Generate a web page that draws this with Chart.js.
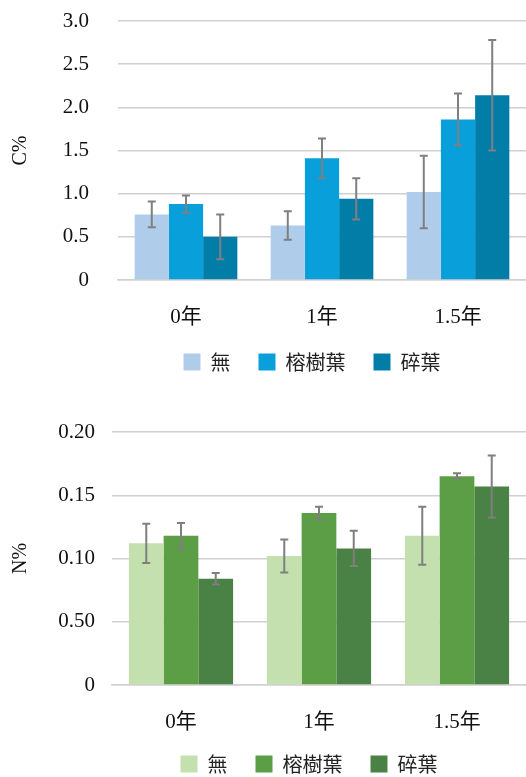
<!DOCTYPE html>
<html lang="zh-Hant">
<head>
<meta charset="UTF-8">
<title>C% / N%</title>
<script src="https://cdn.jsdelivr.net/npm/chart.js@4"></script>
<style>
  html, body { margin: 0; padding: 0; background: #fff; overflow: hidden; }
  body { width: 526px; height: 777px; position: relative; }
  #chartC { position: absolute; left: 0; top: 0; }
  #chartN { position: absolute; left: 0; top: 390px; }
</style>
</head>
<body>
<canvas id="chartC" width="526" height="410"></canvas>
<canvas id="chartN" width="526" height="420"></canvas>

<script>
// data
const categories = ['0年', '1年', '1.5年'];
const seriesNames = ['無', '榕樹葉', '碎葉'];

const cNone = [0.76, 0.63, 1.02];
const cBanyan = [0.88, 1.41, 1.86];
const cCrushed = [0.50, 0.94, 2.14];
const cNoneErr = [0.15, 0.165, 0.42];
const cBanyanErr = [0.10, 0.23, 0.30];
const cCrushedErr = [0.26, 0.24, 0.64];

const nNone = [0.112, 0.102, 0.118];
const nBanyan = [0.118, 0.136, 0.165];
const nCrushed = [0.084, 0.108, 0.157];
const nNoneErr = [0.0155, 0.013, 0.023];
const nBanyanErr = [0.010, 0.005, 0.0023];
const nCrushedErr = [0.0046, 0.014, 0.0245];

const cTickLabels = ['0', '0.5', '1.0', '1.5', '2.0', '2.5', '3.0'];
const nTickLabels = ['0', '0.50', '0.10', '0.15', '0.20'];

const blueColors = ['#AFCDEA', '#089FDA', '#017DA8'];
const greenColors = ['#C3E0AE', '#5C9E46', '#4A8145'];

const serif = "'Liberation Serif', 'Times New Roman', 'Noto Sans CJK TC', serif";
const cjk = "'Noto Sans CJK TC', 'Noto Sans CJK SC', sans-serif";

// error bars drawn from the y scale
const errorBars = {
  id: 'errorBars',
  afterDatasetsDraw(chart) {
    const ctx = chart.ctx;
    const y = chart.scales.y;
    ctx.save();
    ctx.strokeStyle = '#7f7f7f';
    ctx.lineWidth = 2;
    chart.data.datasets.forEach((ds, i) => {
      const meta = chart.getDatasetMeta(i);
      meta.data.forEach((bar, j) => {
        const v = ds.data[j], e = ds.errors[j];
        const top = y.getPixelForValue(v + e);
        const bot = y.getPixelForValue(v - e);
        const x = bar.x;
        ctx.beginPath();
        ctx.moveTo(x, top); ctx.lineTo(x, bot);
        ctx.moveTo(x - 4, top); ctx.lineTo(x + 4, top);
        ctx.moveTo(x - 4, bot); ctx.lineTo(x + 4, bot);
        ctx.stroke();
      });
    });
    ctx.restore();
  }
};

// move the legend row to a fixed place
const legendPlace = {
  id: 'legendPlace',
  afterLayout(chart, args, opts) {
    const lg = chart.legend;
    if (!lg || opts.y == null) return;
    const h = lg.bottom - lg.top;
    lg.top = opts.y - 39;
    lg.bottom = lg.top + h;
    lg.left += opts.dx;
    lg.right += opts.dx;
  }
};

function makeChart(el, values, errs, colors, o) {
  const datasets = values.map((d, i) => ({
    label: seriesNames[i],
    data: d,
    errors: errs[i],
    backgroundColor: colors[i],
    borderWidth: 0,
    categoryPercentage: 0.755,
    barPercentage: 1.0
  }));
  return new Chart(el, {
    type: 'bar',
    data: { labels: categories, datasets: datasets },
    plugins: [errorBars, legendPlace],
    options: {
      responsive: false,
      animation: false,
      layout: { padding: { top: o.padTop, bottom: o.padBottom, left: 0, right: 0 } },
      plugins: {
        tooltip: { enabled: false },
        legendPlace: { y: o.legendY, dx: o.legendDx },
        legend: {
          position: 'bottom',
          fullSize: false,
          labels: {
            boxWidth: 17, boxHeight: 17,
            padding: 28,
            color: '#222',
            font: { family: cjk, size: 20, lineHeight: 1 }
          }
        }
      },
      scales: {
        x: {
          grid: { display: false },
          border: { color: '#d0d0d0', width: 1.5 },
          ticks: { color: '#111', padding: 17, font: { family: serif, size: 21 } },
          afterFit: s => { s.height = o.xHeight; }
        },
        y: {
          min: 0, max: o.max,
          grid: { color: '#d0d0d0', lineWidth: 1.5, drawTicks: false },
          border: { display: false },
          ticks: {
            stepSize: o.step,
            padding: o.tickPad,
            color: '#111',
            font: { family: serif, size: 21 },
            callback: (v, i) => o.tickLabels[i]
          },
          title: {
            display: true, text: o.title, color: '#111',
            padding: { top: 9, bottom: 0 },
            font: { family: serif, size: 20 }
          },
          afterFit: s => { s.width = o.yWidth; s.paddingTop = 0; s.paddingBottom = 0; }
        }
      }
    }
  });
}

makeChart(document.getElementById('chartC'),
  [cNone, cBanyan, cCrushed], [cNoneErr, cBanyanErr, cCrushedErr], blueColors,
  { max: 3, step: 0.5, tickLabels: cTickLabels, title: 'C%', padTop: 21, padBottom: 12,
    xHeight: 60, yWidth: 118, tickPad: 29, legendY: 363, legendDx: -10 });

makeChart(document.getElementById('chartN'),
  [nNone, nBanyan, nCrushed], [nNoneErr, nBanyanErr, nCrushedErr], greenColors,
  { max: 0.2, step: 0.05, tickLabels: nTickLabels, title: 'N%', padTop: 42, padBottom: 7,
    xHeight: 60, yWidth: 112, tickPad: 17, legendY: 375, legendDx: -10 });
</script>
</body>
</html>
